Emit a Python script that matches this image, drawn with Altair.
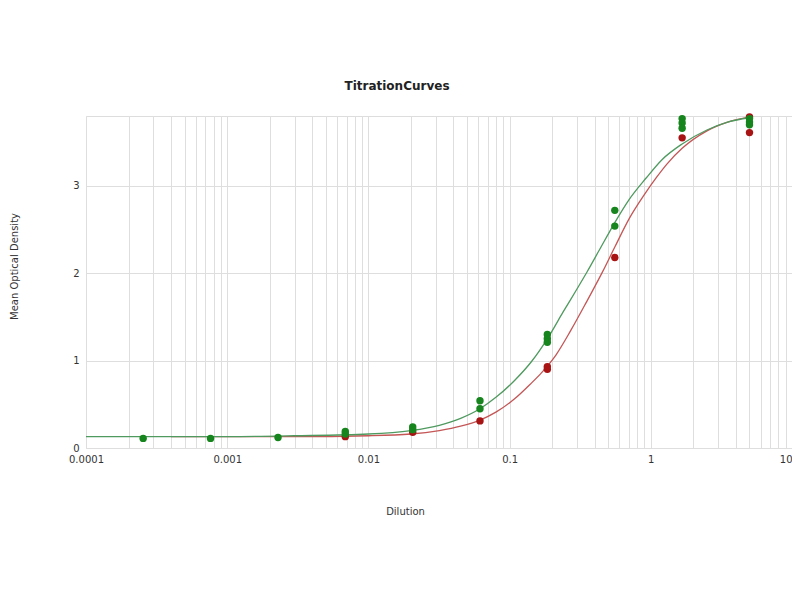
import altair as alt
import pandas as pd

# ---- data ----
green_pt_x = [0.000254, 0.000762, 0.00229, 0.00686, 0.00686, 0.0206, 0.0206,
              0.0617, 0.0617, 0.185, 0.185, 0.185, 0.556, 0.556,
              1.667, 1.667, 1.667, 5, 5, 5]
green_pt_y = [0.11, 0.11, 0.12, 0.19, 0.16, 0.24, 0.21,
              0.54, 0.45, 1.30, 1.25, 1.21, 2.72, 2.54,
              3.77, 3.72, 3.66, 3.77, 3.73, 3.70]
red_pt_x = [0.00686, 0.0206, 0.0617, 0.185, 0.185, 0.556, 1.667, 5, 5]
red_pt_y = [0.13, 0.18, 0.31, 0.93, 0.90, 2.18, 3.55, 3.79, 3.61]

green_curve_x = [0.0001, 0.001, 0.003, 0.01, 0.02, 0.0318, 0.045, 0.0617, 0.08,
                 0.108, 0.143, 0.185, 0.24, 0.3, 0.355, 0.43, 0.556, 0.7,
                 0.927, 1.2, 1.667, 2.5, 3.5, 5]
green_curve_y = [0.13, 0.13, 0.14, 0.16, 0.20, 0.26, 0.34, 0.45, 0.58,
                 0.77, 0.99, 1.25, 1.56, 1.82, 2.02, 2.26, 2.58, 2.84,
                 3.09, 3.30, 3.48, 3.64, 3.73, 3.78]
red_curve_x = [0.0004, 0.001, 0.003, 0.01, 0.02, 0.0318, 0.045, 0.0617, 0.08,
               0.108, 0.14, 0.168, 0.214, 0.27, 0.35, 0.453, 0.556, 0.7, 0.9,
               1.1, 1.3, 1.667, 2.5, 3.5, 5]
red_curve_y = [0.13, 0.13, 0.13, 0.14, 0.16, 0.20, 0.25, 0.32, 0.41,
               0.56, 0.73, 0.86, 1.07, 1.34, 1.67, 2.01, 2.30, 2.62, 2.90,
               3.10, 3.25, 3.43, 3.63, 3.73, 3.79]

decade_ticks = [0.0001, 0.001, 0.01, 0.1, 1, 10]
y_ticks = [0, 1, 2, 3]

# ---- build tables ----
pts = pd.concat([
    pd.DataFrame({"x": red_pt_x, "y": red_pt_y, "s": "Red"}),
    pd.DataFrame({"x": green_pt_x, "y": green_pt_y, "s": "Green"}),
])
red_curve = pd.DataFrame({"x": red_curve_x, "y": red_curve_y, "s": "Red"})
green_curve = pd.DataFrame({"x": green_curve_x, "y": green_curve_y, "s": "Green"})

grid_vals = []
for d in decade_ticks[:-1]:
    for m in range(1, 10):
        grid_vals.append(d if m == 1 else round(m * d, 6))
grid_vals.append(10)

label_expr = "indexof(" + str(decade_ticks) + ", datum.value) >= 0 ? format(datum.value, '~g') : ''"

font = "DejaVu Sans"

x_enc = alt.X("x:Q", scale=alt.Scale(type="log", domain=[0.0001, 10], nice=False),
              axis=alt.Axis(values=grid_vals, labelExpr=label_expr, grid=True,
                            gridColor="#dedede", ticks=False, domain=False,
                            labelOverlap=False, labelFlush=False, labelPadding=6,
                            labelAlign=alt.condition("datum.value == 10",
                                                     alt.value("right"),
                                                     alt.value("center")),
                            labelFont=font, labelFontSize=10, labelColor="#333",
                            title="Dilution", titleFont=font, titleFontSize=10,
                            titleFontWeight="normal", titleColor="#333",
                            titleX=319, titleY=63, titleAlign="center",
                            titleBaseline="middle"))
y_enc = alt.Y("y:Q", scale=alt.Scale(domain=[0, 3.8], nice=False),
              axis=alt.Axis(values=y_ticks, grid=True, gridColor="#dedede",
                            ticks=False, domain=False, labelPadding=7,
                            labelFont=font, labelFontSize=10, labelColor="#333",
                            title="Mean Optical Density", titleFont=font,
                            titleFontSize=10, titleFontWeight="normal",
                            titleColor="#333", titleAngle=-90, titleX=-72,
                            titleY=150, titleAlign="center",
                            titleBaseline="middle"))

red_line = alt.Chart(red_curve).mark_line(color="#c45656", strokeWidth=1.3,
                                          interpolate="monotone").encode(x=x_enc, y=y_enc)
green_line = alt.Chart(green_curve).mark_line(color="#4f9a5f", strokeWidth=1.3,
                                              interpolate="monotone").encode(x=x_enc, y=y_enc)
points = alt.Chart(pts).mark_circle(size=55, opacity=1).encode(
    x=x_enc, y=y_enc,
    color=alt.Color("s:N", scale=alt.Scale(domain=["Red", "Green"],
                                           range=["#a81414", "#17851d"]),
                    legend=None),
    order=alt.Order("s:N", sort="descending"),
)

chart = alt.layer(red_line, green_line, points).properties(
    width=706, height=332,
    autosize=alt.AutoSizeParams(type="none"),
    padding={"left": 78, "top": 108, "right": 0, "bottom": 140},
    title=alt.TitleParams("TitrationCurves", font=font, fontSize=12,
                          fontWeight="bold", color="#222", anchor="middle",
                          dx=-42, offset=20),
).configure_view(stroke="#333", strokeWidth=1.2).configure(background="white")

chart.save("out.html", embed_options={"renderer": "svg", "actions": False})
